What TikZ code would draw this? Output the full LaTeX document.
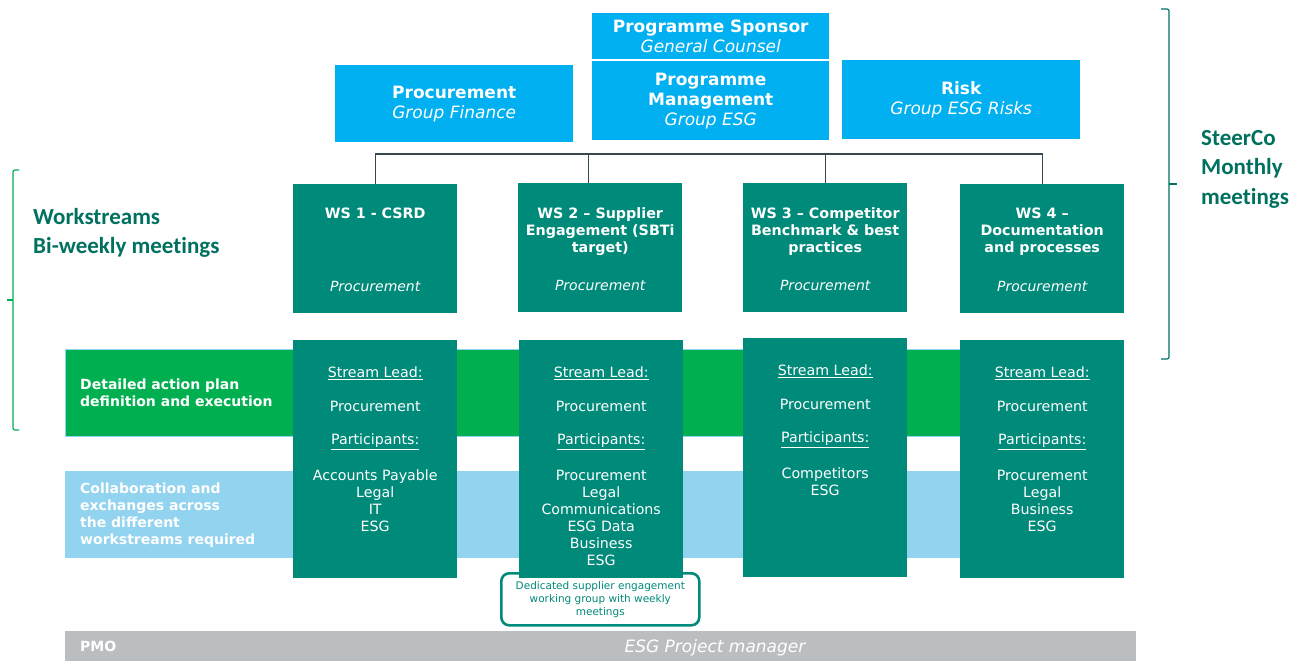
\documentclass[tikz,border=0pt]{standalone}
\usepackage{fontspec}
\setmainfont{DejaVu Sans}
\newfontfamily\sidefont[Ligatures=NoCommon]{Carlito}
\usepackage{tikz}
\usetikzlibrary{positioning}
\definecolor{skyblue}{HTML}{00B0F0}
\definecolor{wsteal}{HTML}{008A7A}
\definecolor{darkteal}{HTML}{00705F}
\definecolor{bandgreen}{HTML}{00B050}
\definecolor{bandblue}{HTML}{92D3EF}
\definecolor{pmogrey}{HTML}{BBBEC0}
\definecolor{busgrey}{HTML}{37474F}

\tikzset{
  topbox/.style={fill=skyblue, text=white, anchor=north west, inner sep=0pt,
    minimum width=237pt, align=center, font=\fontsize{17}{20}\selectfont},
  wsbox/.style={fill=wsteal, anchor=north west, inner sep=0pt,
    minimum width=164pt, minimum height=129pt},
  detailbox/.style={fill=wsteal, anchor=north west, inner sep=0pt,
    minimum width=164pt, minimum height=238pt},
  wstitle/.style={text=white, inner sep=0pt, align=center,
    font=\fontsize{14.3}{17}\selectfont\bfseries},
  wsrole/.style={text=white, inner sep=0pt, font=\fontsize{14}{17}\selectfont\itshape},
  members/.style={text=white, inner sep=0pt, align=center, font=\fontsize{14.2}{17}\selectfont},
  band/.style={anchor=north west, inner sep=0pt, minimum width=1058pt, minimum height=87pt},
  bandtext/.style={text=white, inner sep=0pt, align=left, anchor=west,
    font=\fontsize{14}{17}\selectfont\bfseries},
  sidetext/.style={text=darkteal, inner sep=0pt, align=left, anchor=west,
    font=\sidefont\fontsize{23}{29.5}\selectfont\bfseries},
  busline/.style={draw=busgrey, line width=1.4pt},
  bracket/.style={line width=1.2pt, rounded corners=2pt}
}

\begin{document}
\begin{tikzpicture}[x=1pt, y=-1pt]
\useasboundingbox (0,0) rectangle (1305,661);

\node[topbox, minimum height=46pt] (sponsor) at (592,13)
  {\bfseries Programme Sponsor\\\itshape General Counsel};
\node[topbox, minimum height=79pt] (mgmt) at (592,61)
  {\bfseries Programme\\\bfseries Management\\\itshape Group ESG};
\node[topbox, minimum width=238pt, minimum height=77pt] (proc) at (335,65)
  {\bfseries Procurement\\\itshape Group Finance};
\node[topbox, minimum width=238pt, minimum height=79pt] (risk) at (842,60)
  {\bfseries Risk\\\itshape Group ESG Risks};

\node[band, fill=bandgreen, draw=bandblue, line width=0.8pt] (plan) at (65,349) {};
\node[band, fill=bandblue] (collab) at (65,471) {};
\node[band, fill=pmogrey, minimum width=1071pt, minimum height=30pt] (pmo) at (65,631) {};
\node[bandtext, right=15pt of plan.west] (plantext) {Detailed action plan\\definition and execution};
\node[bandtext, right=15pt of collab.west] (collabtext)
  {Collaboration and\\exchanges across\\the different\\workstreams required};
\node[bandtext, right=15pt of pmo.west] (pmotext) {PMO};
\node[text=white, inner sep=0pt, font=\fontsize{17}{20}\selectfont\itshape] (pm) at (715,648)
  {ESG Project manager};

\node[draw=wsteal, fill=white, line width=2.6pt, rounded corners=8pt, anchor=north west,
  minimum width=198pt, minimum height=52pt, inner sep=0pt, align=center, text=wsteal,
  font=\fontsize{10.5}{13}\selectfont] (weekly) at (500,572)
  {Dedicated supplier engagement\\working group with weekly\\meetings};

\node[wsbox] (wsa) at (293,184) {};
\node[wsbox] (wsb) at (518,183) {};
\node[wsbox] (wsc) at (743,183) {};
\node[wsbox] (wsd) at (960,184) {};
\node[wstitle, below=24pt of wsa.north] (ta) {WS 1 - CSRD};
\node[wstitle, below=24pt of wsb.north] (tb) {WS 2 -- Supplier\\Engagement (SBTi\\target)};
\node[wstitle, below=24pt of wsc.north] (tc) {WS 3 -- Competitor\\Benchmark \& best\\practices};
\node[wstitle, below=24pt of wsd.north] (td) {WS 4 --\\Documentation\\and processes};
\node[wsrole, above=22pt of wsa.south] (ra) {Procurement};
\node[wsrole, above=22pt of wsb.south] (rb) {Procurement};
\node[wsrole, above=22pt of wsc.south] (rc) {Procurement};
\node[wsrole, above=22pt of wsd.south] (rd) {Procurement};

\coordinate (bus) at (0,154);
\coordinate (wsbtop) at ([xshift=-12pt]wsb.north);
\draw[busline] (wsa.north) -- (wsa.north |- bus) -- (wsd.north |- bus) -- (wsd.north);
\draw[busline] (wsbtop) -- (wsbtop |- bus);
\draw[busline] (wsc.north) -- (wsc.north |- bus);

\node[detailbox] (da) at (293,340) {};
\node[detailbox] (db) at (519,340) {};
\node[detailbox, minimum height=239pt] (dc) at (743,338) {};
\node[detailbox] (dd) at (960,340) {};
\node[members, below=27pt of da.north] (ma)
  {\underline{Stream Lead:}\\[17pt]Procurement\\[16pt]\underline{Participants:}\\[19pt]
   Accounts Payable\\Legal\\IT\\ESG};
\node[members, below=27pt of db.north] (mb)
  {\underline{Stream Lead:}\\[17pt]Procurement\\[16pt]\underline{Participants:}\\[19pt]
   Procurement\\Legal\\Communications\\ESG Data\\Business\\ESG};
\node[members, below=27pt of dc.north] (mc)
  {\underline{Stream Lead:}\\[17pt]Procurement\\[16pt]\underline{Participants:}\\[19pt]
   Competitors\\ESG};
\node[members, below=27pt of dd.north] (md)
  {\underline{Stream Lead:}\\[17pt]Procurement\\[16pt]\underline{Participants:}\\[19pt]
   Procurement\\Legal\\Business\\ESG};

\coordinate (wstop) at (13,170);
\coordinate (wsbot) at (13,430);
\draw[bracket, draw=bandgreen] ([xshift=6pt]wstop) -- (wstop) -- (wsbot) -- ([xshift=6pt]wsbot);
\draw[bracket, draw=bandgreen] (13,300) -- (7,300);
\node[sidetext] (wslabel) at (33,233) {Workstreams\\Bi-weekly meetings};

\coordinate (sctop) at (1169,9);
\coordinate (scbot) at (1169,359);
\draw[bracket, draw=darkteal] ([xshift=-8pt]sctop) -- (sctop) -- (scbot) -- ([xshift=-8pt]scbot);
\draw[bracket, draw=darkteal] (1169,184) -- (1177,184);
\node[sidetext] (sclabel) at (1201,169) {SteerCo\\Monthly\\meetings};
\end{tikzpicture}
\end{document}
